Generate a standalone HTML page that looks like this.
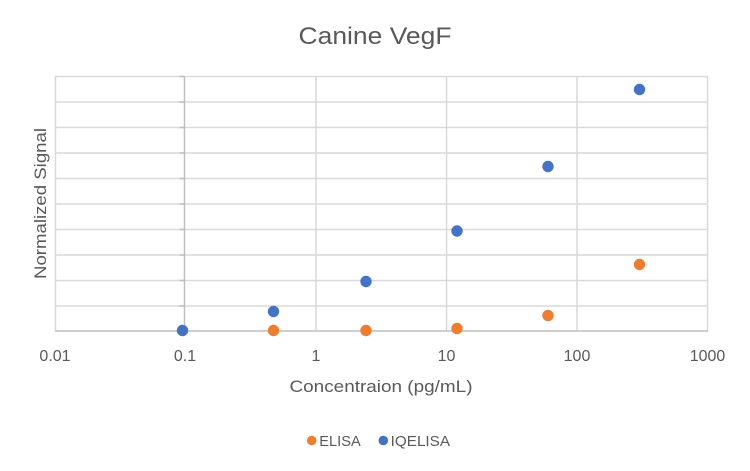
<!DOCTYPE html>
<html><head><meta charset="utf-8"><style>
html,body{margin:0;padding:0;background:#fff;}
svg{display:block;}
text{font-family:"Liberation Sans",sans-serif;fill:#595959;}
</style></head><body>
<svg width="750" height="471" viewBox="0 0 750 471" xmlns="http://www.w3.org/2000/svg">
<rect width="750" height="471" fill="#fff"/>
<text x="375" y="44" font-size="24" text-anchor="middle" textLength="153" lengthAdjust="spacingAndGlyphs">Canine VegF</text>
<g stroke="#d9d9d9" stroke-width="1.5" fill="none">
<line x1="55" y1="76.5" x2="708" y2="76.5"/>
<line x1="55" y1="102" x2="708" y2="102"/>
<line x1="55" y1="127.5" x2="708" y2="127.5"/>
<line x1="55" y1="153" x2="708" y2="153"/>
<line x1="55" y1="178.5" x2="708" y2="178.5"/>
<line x1="55" y1="204" x2="708" y2="204"/>
<line x1="55" y1="229.5" x2="708" y2="229.5"/>
<line x1="55" y1="255" x2="708" y2="255"/>
<line x1="55" y1="280.5" x2="708" y2="280.5"/>
<line x1="55" y1="306" x2="708" y2="306"/>
<line x1="55.5" y1="76.5" x2="55.5" y2="331"/>
<line x1="316" y1="76.5" x2="316" y2="331"/>
<line x1="446.5" y1="76.5" x2="446.5" y2="331"/>
<line x1="577" y1="76.5" x2="577" y2="331"/>
<line x1="707.5" y1="76.5" x2="707.5" y2="331"/>
</g>
<g stroke="#bfbfbf" stroke-width="1.5" fill="none">
<line x1="55" y1="331" x2="708" y2="331"/>
<line x1="184.5" y1="76.5" x2="184.5" y2="331"/>
<line x1="179.5" y1="76.5" x2="184.5" y2="76.5"/>
<line x1="179.5" y1="102" x2="184.5" y2="102"/>
<line x1="179.5" y1="127.5" x2="184.5" y2="127.5"/>
<line x1="179.5" y1="153" x2="184.5" y2="153"/>
<line x1="179.5" y1="178.5" x2="184.5" y2="178.5"/>
<line x1="179.5" y1="204" x2="184.5" y2="204"/>
<line x1="179.5" y1="229.5" x2="184.5" y2="229.5"/>
<line x1="179.5" y1="255" x2="184.5" y2="255"/>
<line x1="179.5" y1="280.5" x2="184.5" y2="280.5"/>
<line x1="179.5" y1="306" x2="184.5" y2="306"/>
</g>
<g font-size="16" text-anchor="middle">
<text x="55" y="361">0.01</text>
<text x="185" y="361">0.1</text>
<text x="316" y="361">1</text>
<text x="446.5" y="361">10</text>
<text x="577" y="361">100</text>
<text x="707.5" y="361">1000</text>
</g>
<text x="381" y="392" font-size="17" text-anchor="middle" textLength="183" lengthAdjust="spacingAndGlyphs">Concentraion (pg/mL)</text>
<text x="0" y="0" font-size="17" text-anchor="middle" textLength="151" lengthAdjust="spacingAndGlyphs" transform="translate(46,203.5) rotate(-90)">Normalized Signal</text>
<g fill="#ED7D31">
<circle cx="273.5" cy="330.5" r="5.7"/>
<circle cx="366" cy="330.5" r="5.7"/>
<circle cx="457" cy="328.5" r="5.7"/>
<circle cx="548" cy="315.5" r="5.7"/>
<circle cx="639.5" cy="264.5" r="5.7"/>
</g>
<g fill="#4472C4">
<circle cx="182.5" cy="330.5" r="5.7"/>
<circle cx="273.5" cy="311.5" r="5.7"/>
<circle cx="366" cy="281.5" r="5.7"/>
<circle cx="457" cy="231" r="5.7"/>
<circle cx="548" cy="166.5" r="5.7"/>
<circle cx="639.5" cy="89.5" r="5.7"/>
</g>
<circle cx="311.7" cy="440.5" r="4.8" fill="#ED7D31"/>
<text x="319.3" y="446" font-size="15" textLength="41.4" lengthAdjust="spacingAndGlyphs">ELISA</text>
<circle cx="383.3" cy="440.5" r="4.8" fill="#4472C4"/>
<text x="390.7" y="446" font-size="15" textLength="59.3" lengthAdjust="spacingAndGlyphs">IQELISA</text>
</svg>
</body></html>
